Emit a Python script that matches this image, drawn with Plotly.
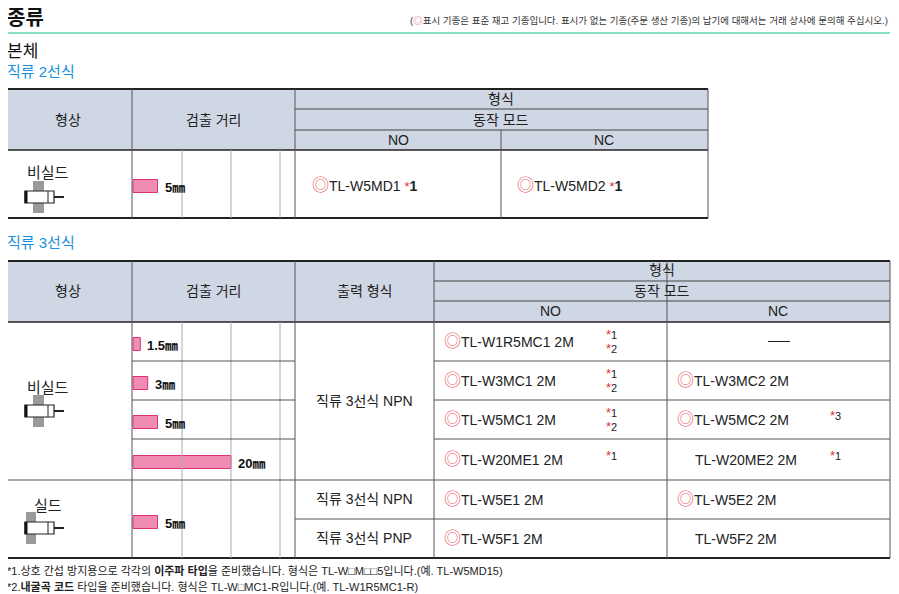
import plotly.graph_objects as go

FONT = "Liberation Sans, Noto Sans CJK KR, sans-serif"
HEADER_BG = "#cfd6e4"
BLUE = "#1a8fe0"
RED = "#e0303a"
PINK = "#f08cb4"
PINK_LINE = "#e0307a"

# ---- data ----
dist_2wire = [5]
dist_3wire = [1.5, 3, 5, 20, 5]
dist_labels_3wire = ["1.5㎜", "3㎜", "5㎜", "20㎜", "5㎜"]
models_2wire_no = ["TL-W5MD1"]
models_2wire_nc = ["TL-W5MD2"]
models_3_no = ["TL-W1R5MC1 2M", "TL-W3MC1 2M", "TL-W5MC1 2M", "TL-W20ME1 2M", "TL-W5E1 2M", "TL-W5F1 2M"]
stock_3_no = [True, True, True, True, True, True]
notes_3_no = [["*1", "*2"], ["*1", "*2"], ["*1", "*2"], ["*1"], [], []]
models_3_nc = ["——", "TL-W3MC2 2M", "TL-W5MC2 2M", "TL-W20ME2 2M", "TL-W5E2 2M", "TL-W5F2 2M"]
stock_3_nc = [False, True, True, False, True, False]
notes_3_nc = [[], [], ["*3"], ["*1"], [], []]
outputs = ["직류 3선식 NPN", "직류 3선식 NPN", "직류 3선식 PNP"]

PX_PER_MM = 4.9
BAR_X0 = 133
OFF = 8  # page body margin compensation
W, H = 899, 594

fig = go.Figure()
shapes = []
ann = []
MARK = "<span style='color:#e8606a;font-size:17px'>◎</span>"
AST = "<span style='color:" + RED + ";font-size:13px'>*</span>"

def px(x):
    return (x - OFF) / W

def py(y):
    return 1 - (y - OFF) / H

def line(x0, y0, x1, y1, color="#333", w=1):
    shapes.append(dict(type="line", x0=x0, y0=y0, x1=x1, y1=y1, line=dict(color=color, width=w), layer="above"))

def rect(x0, y0, x1, y1, fill, lc=None, lw=0):
    shapes.append(dict(type="rect", x0=x0, y0=y0, x1=x1, y1=y1, fillcolor=fill,
                       line=dict(color=lc or fill, width=lw), layer="below"))

def text(x, y, s, size=13, color="#222", anchor="center", bold=False):
    if bold:
        s = "<b>" + s + "</b>"
    ann.append(dict(x=px(x), y=py(y), xref="paper", yref="paper", text=s, showarrow=False,
                    xanchor=anchor, yanchor="middle", font=dict(family=FONT, size=size, color=color)))

def icon(cx, cy, shield):
    if shield:
        rect(cx - 16, cy - 16, cx - 6, cy + 16, "#9a9a9a")
    else:
        rect(cx - 9, cy - 16, cx + 2, cy - 6, "#9a9a9a")
        rect(cx - 9, cy + 6, cx + 2, cy + 16, "#9a9a9a")
    shapes.append(dict(type="rect", x0=cx - 17, y0=cy - 6, x1=cx + 12, y1=cy + 6,
                       fillcolor="white", line=dict(color="#222", width=1.2), layer="above"))
    line(cx + 6, cy - 6, cx + 6, cy + 6, "#222", 1)
    line(cx - 16, cy - 6, cx - 16, cy + 6, "#111", 3)
    line(cx + 12, cy, cx + 22, cy, "#222", 2)

# ---- title area ----
text(5, 18, "종류", 20, "#111", "left", True)
text(890, 20, "(<span style='color:#e8606a'>◎</span>표시 기종은 표준 재고 기종입니다. 표시가 없는 기종(주문 생산 기종)의 납기에 대해서는 거래 상사에 문의해 주십시오.)",
     9.5, "#333", "right")
line(5, 33, 890, 33, "#86e3bd", 2)
text(5, 51, "본체", 17, "#111", "left")
text(5, 72, "직류 2선식", 15, BLUE, "left")

# ---- table 1 ----
T, HB, B = 89, 150, 218
rect(5, T, 708, HB, HEADER_BG)
line(5, T, 708, T, "#222", 2)
line(5, HB, 708, HB, "#222", 1.5)
line(5, B, 708, B, "#222", 2)
for x in [132, 295]:
    line(x, T, x, B, "#555", 1)
line(708, T, 708, B, "#555", 1)
line(295, 109, 708, 109, "#444", 1)
line(295, 130, 708, 130, "#444", 1)
line(501, 130, 501, B, "#555", 1)
for x in [182, 231, 280]:
    line(x, HB, x, B, "#aaa", 1)
text(68, 120, "형상", 14)
text(213, 120, "검출 거리", 14)
text(501, 99, "형식", 14)
text(501, 120, "동작 모드", 14)
text(398, 140, "NO", 14)
text(604, 140, "NC", 14)
text(48, 172, "비실드", 15)
icon(42, 197, False)
yc1 = [186]
text(BAR_X0 + dist_2wire[0] * PX_PER_MM + 5, 187, "5㎜", 13, "#111", "left", True)
for x0, m in [(310, models_2wire_no[0]), (515, models_2wire_nc[0])]:
    text(x0, 185, MARK + m + " " + AST + "<b>1</b>", 14, "#222", "left")

# ---- table 2 ----
text(5, 243, "직류 3선식", 15, BLUE, "left")
T2, HB2, B2 = 261, 322, 558
rows = [322, 361, 400, 439, 480, 519, 558]
rect(5, T2, 890, HB2, HEADER_BG)
line(5, T2, 890, T2, "#222", 2)
line(5, HB2, 890, HB2, "#222", 1.5)
line(5, B2, 890, B2, "#222", 2)
for x in [132, 295, 434, 667]:
    line(x, T2, x, B2, "#555", 1)
line(890, T2, 890, B2, "#555", 1)
line(434, 281, 890, 281, "#444", 1)
line(434, 301, 890, 301, "#444", 1)
for x in [182, 231, 280]:
    line(x, HB2, x, B2, "#aaa", 1)
for y in rows[1:4]:
    line(132, y, 295, y, "#555", 1)
    line(434, y, 890, y, "#555", 1)
line(5, 480, 890, 480, "#555", 1)
line(295, 519, 890, 519, "#555", 1)
text(68, 291, "형상", 14)
text(213, 291, "검출 거리", 14)
text(364, 291, "출력 형식", 14)
text(662, 270, "형식", 14)
text(662, 291, "동작 모드", 14)
text(550, 311, "NO", 14)
text(778, 311, "NC", 14)
text(48, 387, "비실드", 15)
icon(42, 411, False)
text(48, 505, "실드", 15)
icon(42, 528, True)
text(364, 401, outputs[0], 14)
text(364, 499, outputs[1], 14)
text(364, 538, outputs[2], 14)

bar_y = [344, 383, 422, 462, 522]
for d, lab, y in zip(dist_3wire, dist_labels_3wire, bar_y):
    text(BAR_X0 + d * PX_PER_MM + 5, y + 1, lab, 13, "#111", "left", True)

row_c = [(rows[i] + rows[i + 1]) / 2 for i in range(6)]
for i in range(6):
    y = row_c[i]
    text(442, y, (MARK if stock_3_no[i] else "") + models_3_no[i], 14, "#222", "left")
    for k, n in enumerate(notes_3_no[i]):
        ny = y - 7 + 14 * k if len(notes_3_no[i]) == 2 else y - 4
        text(604, ny, AST + n[1:], 11, "#222", "left")
    if models_3_nc[i] == "——":
        line(768, y, 790, y, "#222", 1)
    else:
        text(675 if stock_3_nc[i] else 693, y, (MARK if stock_3_nc[i] else "") + models_3_nc[i], 14, "#222", "left")
    for n in notes_3_nc[i]:
        text(828, y - 4, AST + n[1:], 11, "#222", "left")

# ---- footnotes ----
text(5, 571, "*1.상호 간섭 방지용으로 각각의 <b>이주파 타입</b>을 준비했습니다. 형식은 TL-W□M□□5입니다.(예. TL-W5MD15)", 11, "#222", "left")
text(5, 586, "*2.<b>내굴곡 코드</b> 타입을 준비했습니다. 형식은 TL-W□MC1-R입니다.(예. TL-W1R5MC1-R)", 11, "#222", "left")

# ---- bars ----
fig.add_trace(go.Bar(y=yc1 + bar_y, x=[d * PX_PER_MM for d in dist_2wire + dist_3wire], base=BAR_X0,
                     orientation="h", width=13, marker=dict(color=PINK, line=dict(color=PINK_LINE, width=1)),
                     hoverinfo="skip"))

fig.update_layout(width=W, height=H, margin=dict(l=0, r=0, t=0, b=0),
                  plot_bgcolor="white", paper_bgcolor="white", showlegend=False,
                  xaxis=dict(range=[OFF, W + OFF], visible=False, fixedrange=True),
                  yaxis=dict(range=[H + OFF, OFF], visible=False, fixedrange=True),
                  shapes=shapes, annotations=ann)
fig.write_html("out.html")
